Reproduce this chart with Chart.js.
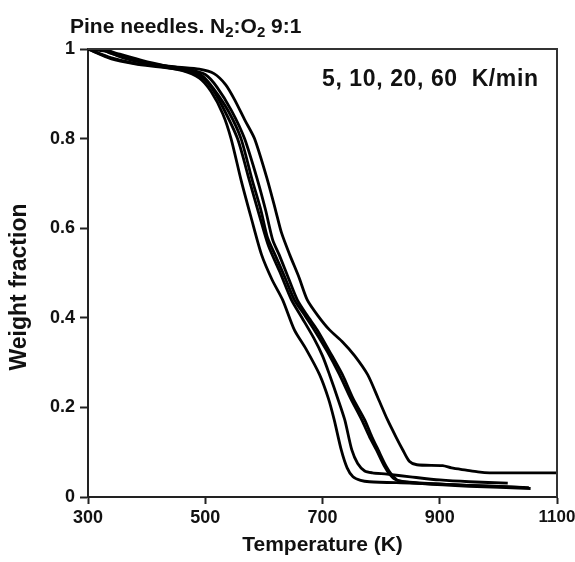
<!DOCTYPE html>
<html>
<head>
<meta charset="utf-8">
<script src="https://cdn.jsdelivr.net/npm/chart.js@4.4.1/dist/chart.umd.min.js"></script>
<style>
	html, body { margin: 0; padding: 0; background: #fff; }
	#wrap { width: 575px; height: 562px; position: relative; }
</style>
</head>
<body>
<div id="wrap"><canvas id="tgaChart"></canvas></div>
<script>
// temperature (K) and weight fraction, one pair per curve
const temp1 = [300, 340, 380, 420, 460, 490, 510, 530, 544, 561, 578, 596, 614, 632, 652, 672, 695, 710, 720, 732, 742, 752, 765, 780, 850, 950, 1052];
const frac1 = [1.0, 0.98, 0.968, 0.962, 0.952, 0.935, 0.905, 0.855, 0.8, 0.708, 0.625, 0.541, 0.485, 0.44, 0.373, 0.33, 0.273, 0.22, 0.172, 0.105, 0.065, 0.045, 0.037, 0.034, 0.031, 0.026, 0.021];

const temp2 = [300, 340, 380, 420, 460, 490, 510, 530, 555, 575, 592, 608, 628, 647, 665, 685, 700, 712, 726, 738, 750, 760, 772, 785, 810, 850, 900, 950, 1016];
const frac2 = [1.0, 0.978, 0.967, 0.96, 0.953, 0.94, 0.915, 0.87, 0.8, 0.708, 0.63, 0.56, 0.5, 0.44, 0.4, 0.355, 0.315, 0.273, 0.22, 0.172, 0.105, 0.075, 0.058, 0.054, 0.051, 0.045, 0.038, 0.034, 0.031];

const temp3 = [300, 330, 360, 400, 440, 470, 495, 515, 540, 561, 580, 595, 606, 621, 636, 652, 670, 686, 708, 729, 748, 767, 780, 792, 805, 815, 826, 860, 950, 1045];
const frac3 = [1.0, 0.995, 0.98, 0.968, 0.96, 0.953, 0.94, 0.91, 0.86, 0.8, 0.708, 0.64, 0.58, 0.535, 0.49, 0.44, 0.405, 0.373, 0.325, 0.273, 0.22, 0.172, 0.135, 0.105, 0.07, 0.05, 0.038, 0.032, 0.026, 0.021];

const temp4 = [300, 325, 350, 390, 430, 470, 500, 520, 545, 567, 589, 603, 615, 626, 640, 657, 674, 691, 712, 734, 752, 772, 784, 795, 808, 818, 830, 870, 950, 1055];
const frac4 = [1.0, 1.0, 0.99, 0.975, 0.963, 0.955, 0.943, 0.915, 0.862, 0.8, 0.708, 0.64, 0.574, 0.541, 0.495, 0.44, 0.405, 0.373, 0.325, 0.273, 0.22, 0.172, 0.135, 0.105, 0.07, 0.05, 0.036, 0.03, 0.024, 0.019];

const temp5 = [300, 320, 340, 370, 410, 450, 490, 515, 535, 550, 568, 584, 606, 620, 630, 644, 660, 674, 692, 712, 735, 755, 777, 795, 811, 825, 837, 848, 861, 905, 920, 945, 965, 985, 1100];
const frac5 = [1.0, 1.0, 0.99, 0.978, 0.967, 0.96, 0.955, 0.945, 0.92, 0.887, 0.84, 0.8, 0.708, 0.64, 0.59, 0.541, 0.49, 0.44, 0.405, 0.373, 0.345, 0.315, 0.273, 0.22, 0.172, 0.135, 0.105, 0.08, 0.072, 0.07, 0.065, 0.06, 0.056, 0.054, 0.054];

const xTicks = [300, 500, 700, 900, 1100];
const yTicks = [0, 0.2, 0.4, 0.6, 0.8, 1];

const FONT = "'Liberation Sans', Arial, Helvetica, sans-serif";

function toPoints(xs, ys) {
	return xs.map((x, i) => ({ x: x, y: ys[i] }));
}

// draws the top/right frame, the title with subscripts, the rate note and the y title
const extras = {
	id: "extras",
	afterDraw(chart) {
		const { ctx, chartArea } = chart;
		ctx.save();
		ctx.strokeStyle = "#333";
		ctx.lineWidth = 2;
		ctx.beginPath();
		ctx.moveTo(chartArea.left, chartArea.top);
		ctx.lineTo(chartArea.right, chartArea.top);
		ctx.lineTo(chartArea.right, chartArea.bottom);
		ctx.stroke();

		ctx.fillStyle = "#111";
		ctx.textBaseline = "alphabetic";
		const parts = [["Pine needles. N", false], ["2", true], [":O", false], ["2", true], [" 9:1", false]];
		let x = 70;
		parts.forEach(([txt, sub]) => {
			ctx.font = sub ? "bold 15px " + FONT : "bold 21px " + FONT;
			ctx.fillText(txt, x, sub ? 37 : 33);
			x += ctx.measureText(txt).width;
		});

		ctx.font = "bold 23px " + FONT;
		ctx.letterSpacing = "0.6px";
		ctx.fillText("5, 10, 20, 60  K/min", 322, 86);
		ctx.letterSpacing = "0px";

		// y axis title
		ctx.translate(26, 287);
		ctx.rotate(-Math.PI / 2);
		ctx.textAlign = "center";
		ctx.font = "bold 23px " + FONT;
		ctx.fillText("Weight fraction", 0, 0);
		ctx.restore();
	},
};

const lineStyle = {
	borderColor: "#000",
	borderWidth: 2.8,
	pointRadius: 0,
	showLine: true,
	fill: false,
	tension: 0.25,
};

new Chart(document.getElementById("tgaChart"), {
	type: "scatter",
	data: {
		datasets: [
			{ label: "curve 1", data: toPoints(temp1, frac1), ...lineStyle },
			{ label: "curve 2", data: toPoints(temp2, frac2), ...lineStyle },
			{ label: "curve 3", data: toPoints(temp3, frac3), ...lineStyle },
			{ label: "curve 4", data: toPoints(temp4, frac4), ...lineStyle },
			{ label: "curve 5", data: toPoints(temp5, frac5), ...lineStyle },
		],
	},
	options: {
		responsive: true,
		maintainAspectRatio: false,
		animation: false,
		layout: { padding: { left: 0, right: 18, top: 49, bottom: 0 } },
		plugins: {
			legend: { display: false },
			tooltip: { enabled: false },
		},
		scales: {
			x: {
				type: "linear",
				min: 300,
				max: 1100,
				afterBuildTicks: (scale) => {
					scale.ticks = xTicks.map((v) => ({ value: v }));
				},
				afterFit: (scale) => {
					scale.height = 65;
					scale.paddingLeft = 0;
					scale.paddingRight = 0;
				},
				grid: { drawOnChartArea: false, drawTicks: true, tickLength: 7, tickWidth: 2, color: "#222" },
				border: { display: true, width: 2, color: "#222" },
				ticks: {
					color: "#111",
					padding: 3,
					// last label squeezed a little so it stays inside the canvas
					font: (c) => ({ family: FONT, size: c.tick && c.tick.value === 1100 ? 17 : 18, weight: "bold" }),
					callback: (v) => String(v),
				},
				title: {
					display: true,
					text: "Temperature (K)",
					color: "#111",
					padding: { top: 0, bottom: 4 },
					font: { family: FONT, size: 21, weight: "bold" },
				},
			},
			y: {
				type: "linear",
				min: 0,
				max: 1,
				afterBuildTicks: (scale) => {
					scale.ticks = yTicks.map((v) => ({ value: v }));
				},
				afterFit: (scale) => {
					scale.width = 88;
					scale.paddingTop = 0;
					scale.paddingBottom = 0;
				},
				grid: { drawOnChartArea: false, drawTicks: true, tickLength: 8, tickWidth: 2, color: "#222" },
				border: { display: true, width: 2, color: "#222" },
				ticks: {
					color: "#111",
					padding: 5,
					font: { family: FONT, size: 18, weight: "bold" },
					callback: (v) => String(v),
				},
			},
		},
	},
	plugins: [extras],
});
</script>
</body>
</html>
